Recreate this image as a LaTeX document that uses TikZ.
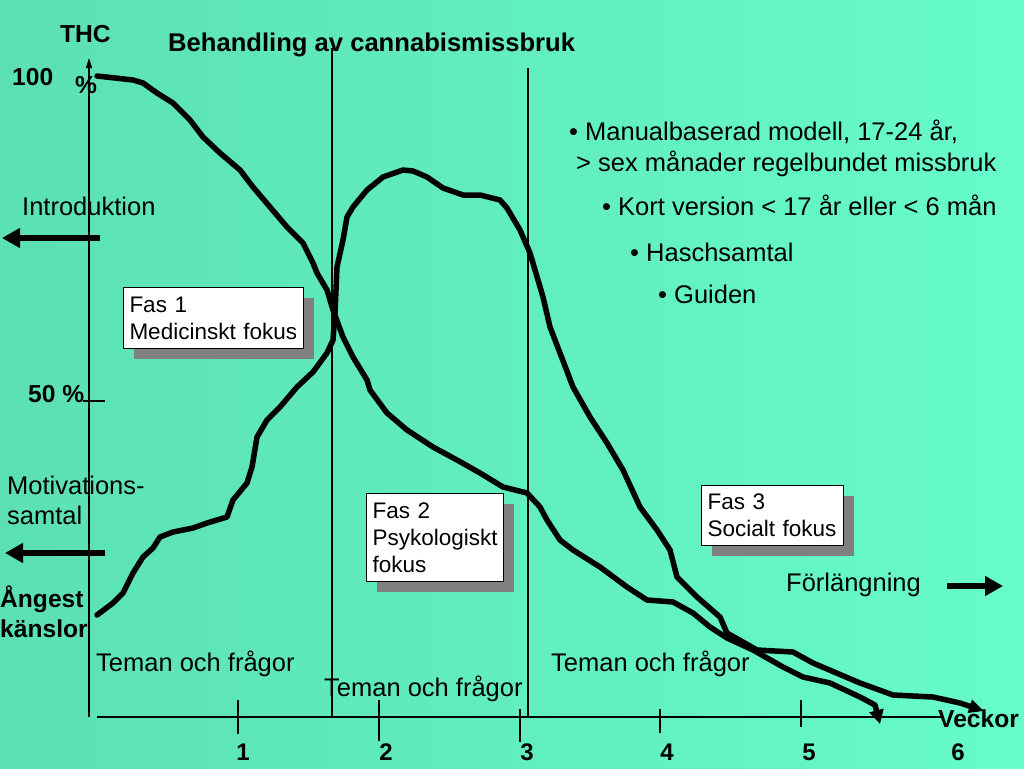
\documentclass[tikz,border=0pt]{standalone}
\usepackage{fontspec}
\setmainfont{Liberation Sans}
\usetikzlibrary{arrows.meta,shadows}
\definecolor{bgL}{HTML}{5BE0B4}
\definecolor{bgR}{HTML}{67FBCB}
\definecolor{shadowgray}{HTML}{808080}
\tikzset{
 txt/.style={anchor=base west, inner sep=0pt, font=\fontsize{25.5}{30}\selectfont},
 btxt/.style={anchor=base west, inner sep=0pt, font=\fontsize{24.6}{30}\selectfont\bfseries},
 num/.style={anchor=base, inner sep=0pt, font=\fontsize{24}{30}\selectfont\bfseries},
 thinline/.style={line width=1.4pt},
 curve/.style={line width=5.5pt, line join=round, line cap=round},
 bigarrow/.style={line width=6.5pt, -{Triangle[length=18pt,width=19pt]}},
 fasbox/.style={draw=black, line width=1pt, fill=white, anchor=north west, align=left,
   inner xsep=6pt, inner ysep=2pt, font=\fontsize{22.5}{27}\selectfont,
   drop shadow={shadow xshift=10pt, shadow yshift=-10pt, fill=shadowgray, opacity=1}},
}
\begin{document}
\begin{tikzpicture}[x=1pt,y=-1pt]
\useasboundingbox (0,0) rectangle (1024,768);
\shade[left color=bgL, right color=bgR] (0,0) rectangle (1024,768);

% axes
\coordinate (ybot) at (89,717);
\coordinate (ytop) at (89,58);
\coordinate (xl) at (97,717);
\coordinate (xr) at (942,717);
\draw[thinline, -{Triangle[length=10pt,width=6pt]}] (ybot) -- (ytop);
\draw[thinline] (xl) -- (xr);

% dividers
\coordinate (d1t) at (332,48);
\coordinate (d1b) at (332,717);
\coordinate (d2t) at (528,68);
\coordinate (d2b) at (528,717);
\draw[thinline] (d1t) -- (d1b);
\draw[thinline] (d2t) -- (d2b);

% ticks
\draw[thinline] (238,700) -- (238,734);
\draw[thinline] (379,700) -- (379,741);
\draw[thinline] (520,709) -- (520,742);
\draw[thinline] (660,709) -- (660,733);
\draw[thinline] (801,700) -- (801,727);
\draw[thinline] (83,401) -- (105,401);

% labels on axes
\node[btxt] (thc) at (60,42) {THC};
\node[btxt] (hundred) at (12,85) {100};
\node[btxt] (pct) at (75,93) {\%};
\node[btxt] (fifty) at (28,402) {50 \%};
\node[btxt] (veckor) at (938,727) {Veckor};
\node[num] (n1) at (243,760) {1};
\node[num] (n2) at (386,760) {2};
\node[num] (n3) at (527,760) {3};
\node[num] (n4) at (667,760) {4};
\node[num] (n5) at (809,760) {5};
\node[num] (n6) at (958,760) {6};

% title
\node[btxt, font=\fontsize{25.6}{30}\selectfont\bfseries] (title) at (168,52) {Behandling av cannabismissbruk};

% bullets
\node[txt] (b1) at (569,140) {• Manualbaserad modell, 17-24 år,};
\node[txt] (b1b) at (576,171) {> sex månader regelbundet missbruk};
\node[txt] (b2) at (602,215) {• Kort version < 17 år eller < 6 mån};
\node[txt] (b3) at (630,261) {• Haschsamtal};
\node[txt] (b4) at (658,303) {• Guiden};

% left texts
\node[txt] (intro) at (22,215) {Introduktion};
\node[txt] (motiv) at (7,494) {Motivations-};
\node[txt] (samtal) at (7,524) {samtal};
\node[btxt] (angest) at (0,607) {Ångest};
\node[btxt] (kanslor) at (0,637) {känslor};

\coordinate (a1s) at (100,238);
\coordinate (a1e) at (2,238);
\draw[bigarrow] (a1s) -- (a1e);
\coordinate (a2s) at (105,553);
\coordinate (a2e) at (5,553);
\draw[bigarrow] (a2s) -- (a2e);

% Förlängning
\node[txt] (forl) at (786,591) {Förlängning};
\coordinate (a3s) at (947,586);
\coordinate (a3e) at (1003,586);
\draw[bigarrow] (a3s) -- (a3e);

% Teman och frågor
\node[txt] (tema1) at (96,671) {Teman och frågor};
\node[txt] (tema2) at (324,696) {Teman och frågor};
\node[txt] (tema3) at (551,671) {Teman och frågor};

% curve A (THC)
\draw[curve, -{Triangle[length=14pt,width=14pt]}]
 (97,76) -- (133,80) -- (143,83) -- (157,93) -- (173,103) -- (180,110) -- (190,120)
 -- (203,137) -- (220,153) -- (240,170) -- (253,187) -- (270,207) -- (287,227)
 -- (303,243) -- (313,263) -- (317,273) -- (327,290) -- (333,310) -- (343,337)
 -- (353,357) -- (367,380) -- (370,390) -- (387,413) -- (407,430) -- (433,447)
 -- (457,460) -- (480,473) -- (503,487) -- (527,493) -- (540,507) -- (547,520)
 -- (560,540) -- (573,550) -- (600,567) -- (627,587) -- (647,600) -- (673,602)
 -- (693,613) -- (710,627) -- (727,638) -- (753,650) -- (783,667) -- (803,677)
 -- (830,683) -- (860,697) -- (875,705) -- (880,724);

% curve B (motivation)
\draw[curve, -{Triangle[length=15pt,width=13pt]}]
 (97,615) -- (113,603) -- (123,593) -- (133,573) -- (143,557) -- (153,548) -- (160,537)
 -- (173,532) -- (193,528) -- (207,523) -- (227,517) -- (233,500) -- (247,483)
 -- (252,467) -- (257,437) -- (267,420) -- (280,407) -- (297,387) -- (313,372)
 -- (327,353) -- (333,340) -- (335,313) -- (337,267) -- (343,240) -- (347,217)
 -- (353,207) -- (367,190) -- (383,177) -- (403,170) -- (413,171) -- (427,177)
 -- (443,188) -- (463,195) -- (480,195) -- (500,200) -- (507,208) -- (520,230)
 -- (530,253) -- (543,297) -- (550,327) -- (560,353) -- (573,387) -- (590,417)
 -- (607,443) -- (623,470) -- (640,507) -- (657,530) -- (670,550) -- (677,577)
 -- (697,597) -- (720,617) -- (727,633) -- (757,650) -- (793,652) -- (813,663)
 -- (860,683) -- (893,695) -- (933,697) -- (960,703) -- (984,711);

% boxes
\node[fasbox, text width=168pt, minimum height=61pt] (fas1) at (123,287) {Fas 1\\Medicinskt fokus};
\node[fasbox, text width=125pt, minimum height=88pt] (fas2) at (366,493) {Fas 2\\Psykologiskt\\fokus};
\node[fasbox, text width=130pt, minimum height=60pt] (fas3) at (701,485) {Fas 3\\Socialt fokus};
\end{tikzpicture}
\end{document}
